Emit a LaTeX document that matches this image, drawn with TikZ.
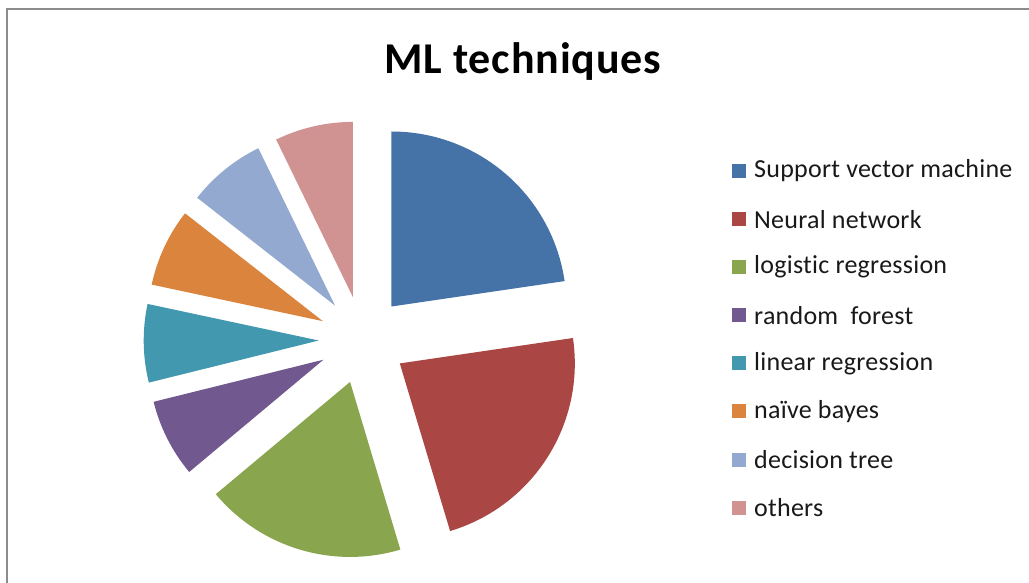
\documentclass[tikz,border=0pt]{standalone}
\usepackage{fontspec}
\setmainfont{Carlito}
\newfontfamily\titlefont{Carlito}[LetterSpace=2,Ligatures=CommonOff]
\newfontfamily\legendfont{Carlito}[LetterSpace=1,Ligatures=CommonOff]
\definecolor{chartframe}{HTML}{8C8C8C}
\definecolor{svm}{HTML}{4572A7}
\definecolor{nnet}{HTML}{AA4643}
\definecolor{logreg}{HTML}{89A54E}
\definecolor{rforest}{HTML}{71588F}
\definecolor{linreg}{HTML}{4198AF}
\definecolor{nbayes}{HTML}{DB843D}
\definecolor{dtree}{HTML}{93A9CF}
\definecolor{others}{HTML}{D19392}
\begin{document}
\begin{tikzpicture}[x=1pt,y=1pt,
  legendkey/.style={minimum size=14pt, inner sep=0pt},
  legendtext/.style={anchor=west, inner sep=0pt, font=\legendfont\fontsize{26}{30}\selectfont, text=black!90}]
\useasboundingbox (0,0) rectangle (1029,583);
\fill[white] (0,0) rectangle (1029,583);
% chart area frame
\draw[line width=2pt, chartframe] (7,-20) -- (7,574) -- (1060,574) -- (1060,-20);
% title
\node[font=\titlefont\bfseries\fontsize{44}{50}\selectfont] (title) at (523,521) {ML techniques};
% exploded pie
\def\pieR{175}
\def\pieD{44}
\coordinate (c) at (362.7,243.2);
\foreach \a/\b/\col in {90/8.35/svm, 8.35/-73.3/nnet, -73.3/-140.1/logreg,
    -140.1/-166.08/rforest, -166.08/-192.06/linreg, -192.06/-218.04/nbayes,
    -218.04/-244.02/dtree, -244.02/-270/others}{
  \fill[\col] (c) ++({(\a+\b)/2}:\pieD) -- ++(\a:\pieR)
    arc[start angle=\a, end angle=\b, radius=\pieR] -- cycle;
}
% legend
\foreach \col/\lab [count=\i from 0] in {svm/Support vector machine, nnet/Neural network,
    logreg/logistic regression, rforest/random\ \ forest, linreg/linear regression,
    nbayes/naïve bayes, dtree/decision tree, others/others}{
  \node[legendkey, fill=\col] (key\i) at (739, {583-171-48.1*\i}) {};
  \node[legendtext] (lab\i) at (754, {583-171-48.1*\i}) {\lab};
}
\end{tikzpicture}
\end{document}
